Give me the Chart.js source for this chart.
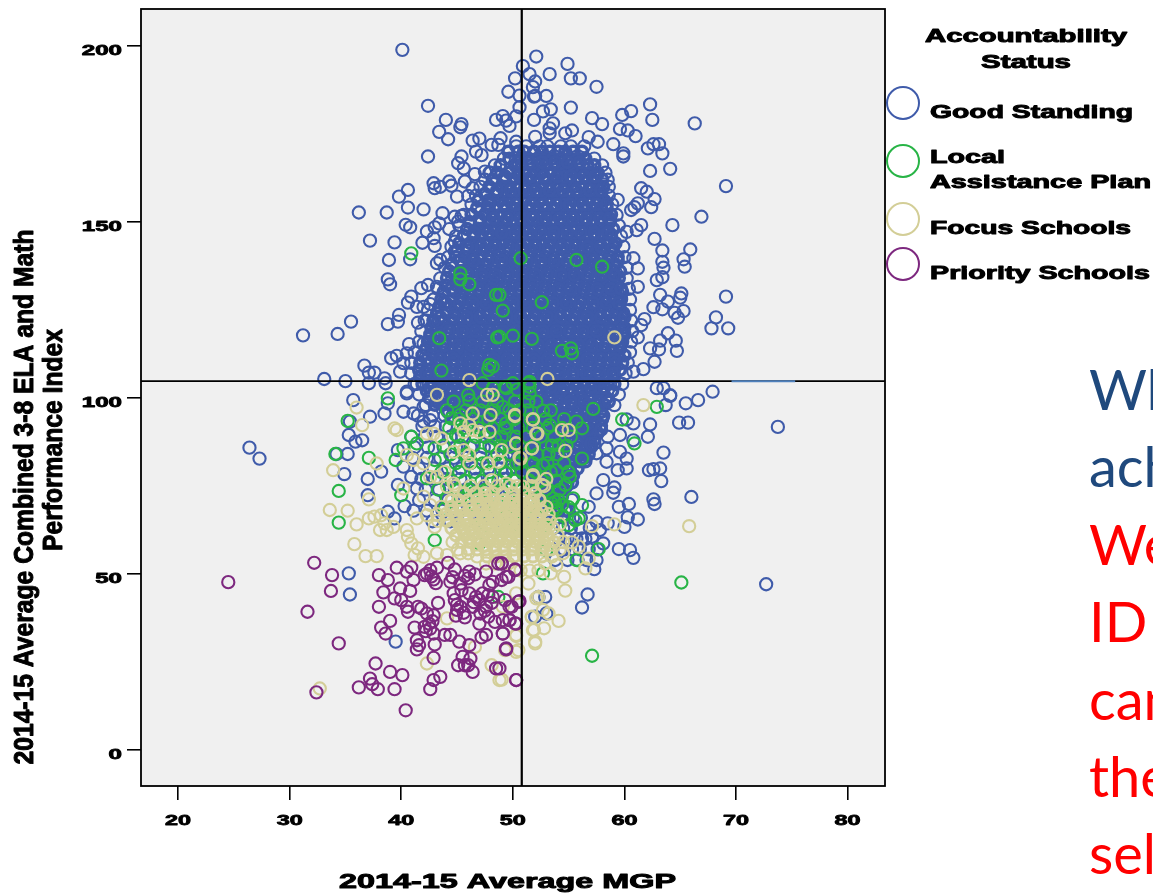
<!DOCTYPE html>
<html>
<head>
<meta charset="utf-8">
<title>MGP and Performance Index</title>
<script src="https://cdn.jsdelivr.net/npm/chart.js@4"></script>
<style>
html, body { margin: 0; padding: 0; background: #fff; overflow: hidden; }
canvas { display: block; }
</style>
</head>
<body>
<canvas id="scatter" width="1153" height="893"></canvas>
<script>
const xTickValues = [20, 30, 40, 50, 60, 70, 80];
const yTickValues = [0, 50, 100, 150, 200];
const xTitle = '2014-15 Average MGP';
const yTitleLines = ['2014-15 Average Combined 3-8 ELA and Math', 'Performance Index'];
const legendTitle = ['Accountability', 'Status'];
const sideLines = ['Wh', 'ach', 'We', 'ID', 'can', 'the', 'sel'];
const meanMgp = 50.8;
const meanIndex = 104.8;
const strayLineX = [69.6, 75.3];

// single circles that can be picked out by eye, [mgp, index]
const goodOutliers = [[40.1,198.9],[42.4,183],[44,179],[43.4,175.6],[44.2,173.5],[45.4,177.8],[45.3,176.9],[42.4,168.6],[46.4,173.1],[47,173.7],[46.7,170],[47.2,169],[48.1,171.9],[48.7,171.9],[48.9,173.8],[48.5,179],[49.1,180.1],[49.7,177.3],[49.4,178.8],[50.3,180],[50.6,182.6],[50.6,185.9],[49.6,187],[50.2,190.8],[50.9,194.3],[51.5,192],[52.1,197],[51.8,188.3],[52,189.9],[51.9,185.6],[51.9,179],[52,174.2],[50.3,172.8],[45.4,168.6],[45.1,166.7],[45.6,165.2],[46.6,163.6],[47.5,164.3],[47.9,164],[45.7,161.5],[44.3,161.5],[42.9,161],[43,159.6],[43.5,160],[44.5,160.3],[45,157.2],[46,157.4],[46.4,159.6],[40.6,159.1],[39.8,157.2],[40.6,154.1],[42,153.6],[38.7,152.7],[36.2,152.7],[43.7,152.5],[44.8,151.5],[45.4,151.7],[45.1,150.1],[40.4,149.2],[40.8,148.5],[43.4,149.6],[43,148.5],[44.3,148],[42.3,147.3],[37.2,144.7],[39.4,144.2],[41.9,144.1],[42.9,145.4],[43,143.2],[44.8,144.4],[44.8,141.6],[38.9,139.2],[40.8,139.4],[43.5,139.2],[43.2,138.3],[38.8,133.7],[39,132.3],[41.8,131.2],[42.4,132.1],[43.2,131.6],[40.9,128.8],[40.6,127.1],[41.4,125.9],[42,125.9],[42.6,126.7],[43.8,127.1],[39.8,123.6],[39.7,121.7],[38.8,121],[41.5,121.4],[42.3,122],[42.9,122],[43.3,121.7],[35.5,121.7],[34.3,118.2],[31.2,117.8],[40.7,115.3],[42,115.5],[42.6,117.2],[40.5,112.7],[39.6,112],[39.1,111.3],[40.2,109.9],[39.9,107.5],[36.7,109.2],[37.1,107.2],[37.6,107.2],[38.5,105.6],[38.6,104.2],[37.1,104.2],[35,104.8],[33.1,105.4],[40.5,101.8],[41.4,104],
[54.9,194.9],[53.3,192],[55.2,190.8],[56,190.8],[57.5,188.4],[52,185.8],[53,185.8],[53.4,182],[52.7,181.4],[55.2,182.5],[53.6,178],[57.1,179.5],[58,177.8],[59.8,180.4],[60.6,181.5],[62.3,183.4],[62.5,179],[66.3,178],[59.6,176.4],[60.3,176],[61,174.4],[55.3,176],[54.7,175.2],[53.3,176.6],[53.3,175.2],[56.8,174.1],[59,172.1],[57.6,172.8],[59.9,169.5],[59.9,168.6],[62.1,170.9],[62.6,172.1],[63.1,172.1],[63.4,169.5],[62.3,164.5],[64.1,165.1],[69.1,160.2],[61.5,159.6],[62,158.6],[62.7,156.5],[62.4,154.2],[61.2,155.3],[60.9,154.2],[60.6,153.4],[59.4,156.3],[66.9,151.5],[64.3,149.1],[61.5,149.1],[61.1,147.7],[60.2,147.2],[62.7,145.2],[63.4,141.9],[65.9,142.2],[65.3,139.4],[65.4,137.3],[63.4,138.7],[63.5,137],[60.8,139.7],[61.2,136.8],[62.9,133.5],[63.4,134.3],[61.2,131.6],[63.2,129.3],[65.1,129.7],[65,128.5],[69.1,128.8],[63.9,127.4],[62.6,125.8],[63.4,125.2],[64.5,124.2],[65.3,124.7],[64.8,122.8],[68.2,122.9],[67.8,119.8],[69.3,119.8],[61.8,122.4],[61.5,120.7],[63.9,118.4],[64.6,116.3],[63.2,116.3],[61.2,117.2],[64.7,113.4],[62.3,114.1],[63.1,113.8],[62.7,110.3],[61.7,108.2],[60.8,107.5],[62.9,102.8],[63.5,102.8],[64.1,100.8],[65.5,98.5],[66.6,99.4],[67.9,101.8],
[35.7,99.4],[35.4,93.3],[37.2,94.7],[38.5,95.6],[38.8,98.5],[40.5,101.3],[42,93.3],[35.3,89.5],[35.9,87.6],[36.5,88],[35.2,84.1],[34.2,84.1],[39.7,85.2],[40.2,80.5],[38.2,79.1],[34.9,78.4],[37,77],[40.9,77.6],[39.7,75.3],[37,72.4],[41.4,74.3],[40.3,69.3],[38.8,67.7],[39.4,65.8],[26.4,85.9],[27.3,82.8],[35.3,50.2],[35.4,44.2],[39.5,30.8],[42.6,93.7],[40.2,96.1],[42,97.5],[41.1,95.6],[43.5,98.5],
[64.1,100.6],[63.7,98],[64.9,93],[65.7,93],[73.75,91.8],[62.3,92.5],[62.1,89],[63.5,84.5],[62.2,79.5],[62.6,79.8],[63.2,80],[63.3,76.4],[66,71.9],[62.6,71.2],[62.7,69.9],[59.5,69.1],[60.4,69.9],[60.3,66.1],[61.2,65.5],[60,63.4],[59.5,57.1],[60.5,56.8],[60.8,54.6],[72.7,47.1],[56.7,44.2],[56.2,40.5],[57.3,51.4],[57.5,54],[59,73.1],[59.1,74.6],[58.1,76.7],[60.2,80],[59.4,79.5],[60.2,82.8],[59.6,84.7],[58.4,85.7],[57.3,87.1],[58.5,89],[59.6,89.5],[60.8,88],[60.8,92.8],[60.2,93.9],[58.4,81.9],[57.5,84.3],[56.8,69.1],[57.5,72.9],[58.5,64.4],[57.8,62.5],[57.1,60.6],[56.2,60.1],[57.5,64.9],[58.1,58.7],[52.9,43.5],[52.3,43.5],[52,37.9],[53,38.8]];

// the solid part of the cloud can't be separated by eye, so these are estimates
// per row of the picture: [index, mgp, mgp, ...]
const goodCoreRows = [
[170,49.6,50.5,51,51.9,52.6,53.3,54.1,54.7,55.4,56.2],
[168,49.7,50.7,51.4,52.2,52.9,53.6,54.3,55.1,55.8,56.5],
[166.1,48.9,50.2,50.8,51.6,52.3,53,53.8,54.5,55.2,55.9,56.7,57.3],
[164,48.6,49.7,50.5,51.1,51.9,52.6,53.4,54.1,54.7,55.5,56.2,56.9,57.6],
[162.1,48.2,49.3,50.1,50.8,51.5,52.2,52.9,53.7,54.4,55.1,55.8,56.6,57.2,58],
[160,47.9,49,49.7,50.4,51.2,51.8,52.6,53.3,54,54.8,55.5,56.2,56.9,57.6,58.1],
[158,47.5,48.6,49.3,50,50.7,51.5,52.2,52.9,53.6,54.3,55,55.8,56.5,57.2,57.9],
[156.1,46.9,47.8,48.9,49.6,50.4,51.1,51.8,52.5,53.3,54,54.7,55.4,56.1,56.8,57.6,58.2],
[154,46.8,47.8,48.5,49.3,50,50.7,51.4,52.2,52.9,53.6,54.4,55,55.8,56.5,57.2,57.9,58.4],
[152.1,46.3,47.5,48.2,48.9,49.6,50.3,51.1,51.8,52.5,53.2,54,54.7,55.4,56.1,56.9,57.5,58.3,58.8],
[150,46.1,47.1,47.9,48.6,49.3,50,50.8,51.4,52.2,52.9,53.6,54.3,55.1,55.8,56.5,57.2,57.9,58.7],
[148,45.9,46.9,47.5,48.3,49,49.7,50.4,51.2,51.9,52.6,53.3,54,54.8,55.5,56.2,56.9,57.7,58.4,59],
[146.1,45.6,46.5,47.2,48,48.7,49.4,50.1,50.8,51.6,52.3,53,53.7,54.4,55.1,55.9,56.6,57.3,58,58.8],
[144,45.2,46.2,47,47.7,48.4,49.1,49.8,50.5,51.3,52,52.7,53.4,54.2,54.9,55.6,56.3,57,57.8,58.5,59.2],
[142,45,46,46.7,47.4,48.1,48.8,49.6,50.3,51,51.7,52.4,53.1,53.9,54.6,55.3,56.1,56.8,57.5,58.2,58.9],
[140.1,44.9,45.7,46.4,47.1,47.9,48.6,49.3,50,50.7,51.5,52.2,52.9,53.6,54.3,55,55.8,56.5,57.2,57.9,58.7,59.4],
[138,44.5,45.5,46.2,46.9,47.6,48.3,49.1,49.8,50.5,51.2,51.9,52.7,53.4,54.1,54.8,55.5,56.3,57,57.7,58.4,59.1],
[136,44.3,45.3,46,46.8,47.5,48.2,48.9,49.6,50.3,51.1,51.8,52.5,53.2,53.9,54.7,55.4,56.1,56.8,57.6,58.3,59,59.6],
[134.1,44.1,45.1,45.9,46.6,47.3,48,48.7,49.5,50.2,50.9,51.6,52.3,53,53.8,54.5,55.2,55.9,56.6,57.4,58.1,58.8,59.5],
[132,44,45,45.7,46.4,47.1,47.8,48.5,49.3,50,50.7,51.4,52.2,52.9,53.6,54.3,55,55.8,56.5,57.2,57.9,58.6,59.3],
[130.1,43.8,44.8,45.5,46.2,47,47.7,48.4,49.1,49.8,50.6,51.3,52,52.7,53.4,54.1,54.9,55.6,56.3,57,57.7,58.5,59.2,59.8],
[128,43.6,44.6,45.4,46.1,46.8,47.5,48.2,48.9,49.7,50.4,51.1,51.8,52.5,53.3,54,54.7,55.4,56.2,56.9,57.6,58.3,59,59.7],
[126,43.4,44.4,45.1,45.8,46.5,47.3,48,48.7,49.4,50.1,50.9,51.6,52.3,53,53.7,54.5,55.2,55.9,56.6,57.3,58.1,58.8,59.5],
[124.1,43.2,44.1,44.8,45.6,46.3,47,47.7,48.4,49.2,49.9,50.6,51.3,52,52.8,53.5,54.2,54.9,55.7,56.4,57.1,57.8,58.5,59.3,59.9],
[122,42.9,43.8,44.6,45.3,46,46.7,47.5,48.2,48.9,49.6,50.3,51,51.8,52.5,53.2,53.9,54.7,55.4,56.1,56.8,57.5,58.3,59,59.7],
[120,42.7,43.6,44.3,45.1,45.8,46.5,47.2,47.9,48.7,49.4,50.1,50.8,51.5,52.3,53,53.7,54.4,55.1,55.9,56.6,57.3,58,58.7,59.5,60],
[118.1,42.6,43.4,44.2,44.9,45.6,46.3,47,47.8,48.5,49.2,49.9,50.6,51.4,52.1,52.8,53.5,54.2,55,55.7,56.4,57.1,57.9,58.6,59.3,60],
[116,42.4,43.2,43.9,44.7,45.4,46.1,46.8,47.5,48.3,49,49.7,50.4,51.2,51.9,52.6,53.3,54,54.8,55.5,56.2,56.9,57.6,58.4,59.1,59.8],
[114,42.2,43,43.8,44.5,45.2,45.9,46.6,47.4,48.1,48.8,49.5,50.3,51,51.7,52.4,53.1,53.9,54.6,55.3,56,56.7,57.5,58.2,58.9,59.6],
[112.1,41.9,42.8,43.5,44.2,44.9,45.7,46.4,47.1,47.8,48.5,49.3,50,50.7,51.4,52.1,52.9,53.6,54.3,55,55.8,56.5,57.2,57.9,58.6,59.4,60],
[110,41.7,42.6,43.3,44,44.7,45.5,46.2,46.9,47.6,48.4,49.1,49.8,50.5,51.2,52,52.7,53.4,54.1,54.9,55.6,56.3,57,57.7,58.5,59.2,59.8],
[108,41.6,42.4,43.2,43.9,44.6,45.3,46,46.8,47.5,48.2,48.9,49.6,50.4,51.1,51.8,52.5,53.3,54,54.7,55.4,56.1,56.9,57.6,58.3,59,59.6],
[106.1,41.7,42.5,43.2,43.9,44.6,45.4,46.1,46.8,47.5,48.3,49,49.7,50.4,51.1,51.9,52.6,53.3,54,54.7,55.5,56.2,56.9,57.6,58.4,59.1],
[104,41.9,42.7,43.4,44.1,44.8,45.5,46.3,47,47.7,48.4,49.2,49.9,50.6,51.3,52,52.8,53.5,54.2,54.9,55.7,56.4,57.1,57.8,58.5,59.1],
[102,42.3,43,43.7,44.4,45.1,45.9,46.6,47.3,48,48.8,49.5,50.2,50.9,51.6,52.4,53.1,53.8,54.5,55.3,56,56.7,57.4,58.1,58.9],
[100,42.5,43.2,44,44.7,45.4,46.1,46.8,47.6,48.3,49,49.7,50.5,51.2,51.9,52.6,53.3,54.1,54.8,55.5,56.2,56.9,57.7,58.4],
[98.1,43,43.7,44.5,45.2,45.9,46.6,47.4,48.1,48.8,49.5,50.2,51,51.7,52.4,53.1,53.9,54.6,55.3,56,56.7,57.5,58.2],
[96,44.2,44.9,45.6,46.4,47.1,47.8,48.5,49.3,50,50.7,51.4,52.1,52.9,53.6,54.3,55,55.8,56.5,57.2,57.9],
[94,45.8,46.5,47.2,47.9,48.6,49.4,50.1,50.8,51.5,52.3,53,53.7,54.4,55.1,55.9,56.6,57.3,58],
[92.1,47.2,48,48.7,49.4,50.1,50.9,51.6,52.3,53,53.7,54.5,55.2,55.9,56.6,57.4,57.9],
[90,47.7,48.5,49.2,49.9,50.6,51.3,52.1,52.8,53.5,54.2,55,55.7,56.4,57.1,57.6],
[88,48.7,49.4,50.2,50.9,51.6,52.3,53.1,53.8,54.5,55.2,55.9,56.7,57.3],
[86.1,49.2,50,50.7,51.4,52.1,52.8,53.6,54.3,55,55.7,56.5,57],
[84,49.7,50.5,51.2,51.9,52.6,53.4,54.1,54.8,55.5,56.2,56.8],
[82,50.3,51,51.7,52.4,53.1,53.9,54.6,55.3,56,56.5],
[80,50.7,51.5,52.2,52.9,53.6,54.4,55.1,55.8],
[78.1,51,51.8,52.5,53.2,53.9,54.6,55.4],
[76,51.3,52,52.8,53.5,54.2,54.9,55.3],
[74,51.8,52.5,53.2,53.9,54.6],
[72,52.3,53,53.7,54.4],
[70,52.7,53.5,54.2],
[68,53.3,54.1,54.8],
// second pass through the cloud where the rings overlap most
[167,50.4,51.5,52.6,53.8,54.9,56],
[163,49.3,50.6,51.7,52.8,54,55.2,56.4,57.4],
[159,48.6,49.8,51,52.1,53.3,54.5,55.7,56.9,57.9],
[155,47.9,49.2,50.3,51.6,52.7,53.9,55.1,56.3,57.5,58.4],
[151,47,48.3,49.5,50.7,51.8,53,54.2,55.4,56.6,57.8,58.7],
[147,46.5,47.8,49,50.2,51.4,52.5,53.7,54.9,56.1,57.3,58.5],
[143,45.9,47.2,48.4,49.6,50.8,52,53.2,54.4,55.6,56.7,57.9,59],
[139,45.3,46.5,47.8,49,50.2,51.3,52.5,53.7,54.9,56.1,57.3,58.5,59.4],
[135,44.8,46,47.2,48.4,49.6,50.8,52,53.1,54.3,55.5,56.7,57.9,59.1],
[131,44.5,45.7,46.9,48.1,49.3,50.5,51.7,52.9,54.1,55.2,56.4,57.6,58.8,59.7],
[127,44,45.2,46.4,47.6,48.8,50,51.2,52.4,53.6,54.8,56,57.2,58.4,59.5],
[123,43.5,44.7,45.9,47.1,48.3,49.5,50.7,51.9,53.1,54.3,55.5,56.7,57.9,59.1,60],
[119,43.1,44.3,45.5,46.7,47.9,49.1,50.3,51.5,52.7,53.9,55.1,56.3,57.5,58.7,59.9],
[115,42.7,43.9,45.1,46.3,47.5,48.7,49.9,51.1,52.3,53.5,54.7,55.9,57.1,58.3,59.5],
[111,42.3,43.5,44.7,45.9,47.1,48.3,49.5,50.7,51.9,53.1,54.3,55.5,56.7,57.9,59.1],
[107,42.2,43.4,44.6,45.8,47,48.2,49.4,50.6,51.8,53,54.2,55.4,56.6,57.8,59],
[103,42.6,43.8,45,46.2,47.4,48.6,49.8,51,52.2,53.4,54.6,55.8,57,58.2],
[99,43.2,44.4,45.6,46.8,48,49.2,50.4,51.6,52.8,54,55.2,56.4,57.6,58.6],
[95,46.1,47.4,48.6,49.8,51,52.2,53.4,54.6,55.8,57,58.1],
[91,48.3,49.6,50.8,52,53.2,54.4,55.6,56.8,57.9],
[87,49.8,51,52.2,53.4,54.6,55.8,57],
[83,50.6,51.8,53,54.2,55.4,56.4],
[79,51.5,52.7,53.9,55.1],
[75,52.4,53.6,54.8]];

// loose rings round the edge of the cloud and under the green and tan
const goodLooseRows = [
[171.5,50.3,51.2,52.4,53.1,54.3,55.2,56.4],
[168,49.2,57.3],[166.1,48.4,58],[164,48,58.3],[162,47.5,58.5],[160,47.1,58.6],[157.5,46.7,58.6],[155,46.3,58.9],[152,45.6,59.3],[149,45.2,59.5],[146,44.9,59.7],[143,44.5,59.9],[140,44.2,60],[137,43.9,60.2],[134,43.5,60.2],[131,43.3,60.4],[128,42.9,60.5],[125,42.4,60.5],[122,42.1,60.6],[119,41.8,60.7],[116,41.6,60.6],[113,41.2,60.5],[110,40.9,60.3],[107,40.9,60.1],[104,41.2,59.8],[101,41.6,59.5],[98,42.2,59.1],
[66,53.2,53.9,54.6,55.4,56.1],
[63,53.6,54.5,55.2,56.1,56.9],
[60,54.1,54.9,55.7,56.5],
[57,54.6,55.3,56,56.8,57.6],
[54,53.8,54.9,55.8,56.6],
[95,41.5,42.8,43.9,44.6],
[92,41.9,43,44,45.1,46],
[89,40.9,42.1,43.2,44.4,45.5,46.6,47.5],
[86,41.2,42.4,43.8,44.9,46.2,47.4,48.1],
[83,41,42.3,43.5,44.7,45.9,47.1,48.3,49.1],
[80,41.6,42.9,44.2,45.4,46.6,47.8,49,50],
[77,41.8,43,44.1,45.3,46.7,47.9,49.2,50.1],
[74,42.2,43.4,44.8,46,47.3,48.5,49.7,50.6],
[71,41.6,43,44.2,45.7,46.9,48.2,49.4,50.8,55.3],
[68,41.1,42.3,43.7,45,46.3,47.6,48.9,50.2,51.6,55],
[65,42.8,44.4,45.9,47.1,48.6,50.1,51.5,52.6]];

const localPoints = [[50.7,139.7],[55.7,139.2],[58,137.3],[52.6,127.2],[49.1,124.8],[50,117.7],[51.7,116.8],[54.4,113.4],[55.2,114.1],[55.3,112.7],[48.8,117.4],[48.8,129.3],[40.9,141.1],[45.3,135.4],[45.3,133.7],[46.1,132.3],[48.5,129.3],[43.4,117],[48.6,117.2],[43.6,107.8],[47.9,109.4],[48.2,108.9],[47.8,108],[47.3,104.2],[50,104.2],[51.4,104.2],[49.4,102.8],[48.2,102.8],[46,100.9],
[57.2,96.9],[52.7,96.4],[59.8,93.9],[62.9,97.5],[60.9,87.1],[56.2,82.8],[56.2,69.6],[57.7,57.1],[55.6,65.3],[65.1,47.6],[57.1,26.8],[55.7,54],[52.7,50.2],[56.2,91.4],[55.7,93.3],[53.3,92.3],[54.1,86.6],[53.2,84],[52.7,80.9],[53.9,79.5],[55.1,77.6],[54.7,75.3],[54.2,73.9],[53.8,70.5],[54.4,69.6],[53.9,68.2],[53.5,70.1],[54.1,71],[55,63.9],[55.9,65.8],[53,56.8],[51.5,103.2],[51.5,101.3],[49.3,103.2],[51.5,104.6],[50.4,102.4],
[38.8,99.9],[35.2,93.5],[34.1,84.1],[37.1,83],[39.5,82.4],[34.4,73.6],[34.4,64.6],[40.9,89],[41.4,87.1],[40.2,85.7],[44.5,94.2],[45.3,95.2],[46.1,99.4],[49.1,97.5],[44.9,89.5],[46.7,89],[48.4,88.5],[49.4,92.8],[42.3,77.2],[43,82.4],[43,85.7],[47.3,81.4],[49.7,86.2],[50.3,81.4],[49.4,78.6],[47.9,73.8],[46.4,72.9],[43.9,68.6],[45.6,68.6],[43,59.6],[40,72.4],[47,58.7],[50.8,64.4],[48.7,43.5]];

// green packed in behind the tan rings, estimated
const localCoreRows = [
[99,44.7,47.3,48.6,50.2,51.4,52.1],
[96.5,44.1,45.8,47.1,48.3,49.7,50.6,51.3,53.4],
[94,45.2,46.4,47.8,48.9,50.1,51.6,52.9,54.6],
[91.5,44.3,45.6,46.9,48.2,49.3,50.5,51.8,53.1,54.4],
[89,45.1,47.5,49,50.3,51.2,52.5,53.7,55.2],
[86.5,43.8,45.3,46.5,47.9,48.9,50.6,51.9,53.5,54.8],
[84,44.4,45.8,47.1,48.6,49.8,51.1,52.2,54],
[81.5,44.9,46.2,47.7,48.9,50.6,51.8,53.1,54.6],
[79,43.6,45.2,46.6,47.9,49.3,50.8,52,53.4,55],
[76.5,44.5,45.7,47.2,48.7,50.2,51.5,52.6,53.9],
[74,43.3,45,46.1,47.6,49,50.4,51.7,53],
[71.5,44.1,45.3,46.9,48.3,49.6,50.9,52.3,53.6,55.4],
[69,47.1,48.5,49.9,51.1,52.4,53.8,55],
[66.5,46.6,48.1,49.4,50.7,52.1,53.2,54.5],
[64,47.6,49.1,50.3,51.6,52.9,54.2]];

const focusPoints = [[59.1,117.2],[53.1,105.4],[46.1,105.1],[43.2,100.9],[47.7,100.9],[48.2,100.9],
[61.7,98],[65.8,63.6],[59.1,64.1],[57.1,63.6],[56.5,51.6],[54.7,45.3],[54.6,49.2],[53.4,50.2],[54.1,36.7],[52.8,34.6],[51.9,34.1],[52,30.8],[51.7,37.7],[53.2,38.8],[52.7,39.8],[52.3,43.5],[50.2,94.9],[51.8,93.9],[52.2,89.9],[54.4,90.9],[55,90.9],[51.7,85.7],[54.7,85],[50.3,87.1],[50.7,82.8],[51.8,78.1],[53,77],[52.6,75.3],[54.2,64.2],[55.3,59],[55.9,57.8],[56.8,54.4],[54.5,55.9],[53.9,52.5],[50.5,28.4],[49,20],[50.3,32.4],
[36,97.3],[36.5,92.3],[39.4,91.4],[39.6,90.9],[37.8,81.4],[33.9,79.5],[40.2,74.3],[37.1,71.2],[33.6,68.2],[35.2,68],[36,64.1],[37.1,65.8],[37.6,66.3],[38.2,66.7],[38.1,62.5],[38.7,62.5],[38.5,64.4],[39.3,63.4],[35.8,58.5],[36.8,55.1],[37.8,55.1],[40.5,62.5],[40.6,60.6],[40.9,58.7],[41.5,57.3],[41.2,55.4],[42,54.9],[43.2,55.9],[44.1,55.4],[45.3,55.9],[46,55.9],[42.3,89.9],[42.9,89.9],[43.6,88.5],[40.5,83.8],[41.1,82.4],[42,81.4],[42.6,77.6],[43.2,77.6],[43.9,79],[44.1,74.8],[44.7,75.7],[42,72],[42.6,69.6],[41.4,65.8],[42.3,66.7],[43,63.4],[44.7,84.7],[45.6,85.2],[46.1,83.8],[46.1,81.4],[47.8,81.4],[48.7,81.9],[49,85.2],[50.6,83.1],[51.7,85.7],[51.8,77.6],[45.3,92.8],[46.4,95.6],[48,95.2],[50.2,95.2],[51.8,93.9],[46.1,92.3],[45.6,90.4],[47,90.4],[47.9,90.4],[46.4,90.9],[50.3,87.1],[52.1,89.9],[32.7,17.5],[44.1,37.4],[42.3,24.6],[46.6,29.3],[48.1,24.1],[48.8,19.9],[49.3,28.4],[50.3,27.9],[50.3,32.7],[51.8,34.1],[52,30.3],[51.7,37.9],[51.4,47.3],[52.1,43.1],[49.1,40.7],[50.3,44.5],[50.9,74.8],[49.4,75.7],[48.1,76.7],
[44.8,75],[46.2,75],[47.4,75],[48.6,75],[49.8,75],[50.4,75],[51.7,75],[52.8,75],[43.6,69.1],[53,69.1],[43.2,67],[53.2,67],[43.3,65.1],[53.3,65.1],[53.6,63],[54,61],[44.6,59.1],[54.5,59.1],[45.1,57],[54.2,57],[46.8,55],[53.5,55],[47.6,53],[48.4,53],[49.6,53],[52.9,53],[50.7,51],[51.5,51],[52.3,51]];

// the tan blob, estimated: [index, mgp, mgp, ...]
const focusCoreRows = [
[73,45.6,46.7,47.5,48.2,49.1,50,51,52],
[71,44.5,45.1,46,46.8,47.6,48.3,49.2,50.1,50.9,51.8,52.4],
[69.1,44.5,45.3,46.2,47,47.8,48.6,49.5,50.3,51.2,52],
[67,44,44.8,45.7,46.5,47.3,48.1,48.9,49.8,50.6,51.4,52.3],
[65.1,44.1,45,45.8,46.6,47.4,48.3,49.1,49.9,50.7,51.6,52.4],
[63,44.5,45.4,46.2,47,47.8,48.7,49.5,50.3,51.2,52,52.8],
[61,44.9,45.7,46.5,47.4,48.2,49,49.8,50.7,51.5,52.3,53.1],
[59.1,45.4,46.2,47,47.9,48.7,49.5,50.4,51.2,52,52.8,53.7],
[57,46,46.8,47.6,48.4,49.2,50.1,50.9,51.7,52.6,53.4],
[55,47.7,48.5,49.3,50.1,51,51.8,52.6],
[70,47.1,48,48.9,49.7,50.6,51.5],
[68,44.5,45.4,46.3,47.2,48.1,49,49.9,50.8,51.7,52.6],
[66,44.9,45.8,46.7,47.6,48.5,49.4,50.3,51.2,52.1],
[64,45.2,46.1,47,47.9,48.8,49.7,50.6,51.5,52.4,53.1],
[62,45.6,46.5,47.4,48.3,49.2,50.1,51,51.9,52.8],
[60,46,46.9,47.8,48.7,49.6,50.5,51.4,52.3,53.2],
[58,47.4,48.3,49.2,50.1,51,51.9,52.8]];

const priorityPoints = [[24.5,47.7],[32.2,53.2],[33.8,49.7],[33.7,45.2],[31.6,39.3],[34.4,30.3],[37.7,24.6],[39,22.2],[40.1,21.3],[37.2,20.3],[37.4,18.7],[37.9,17.3],[36.2,17.8],[39.4,17.3],[32.4,16.4],[40.4,11.3],[42.6,17.3],[42.9,19.9],[43.5,20.8],[42.9,26.2],[45.1,24.1],[45.7,24.1],[45.5,26.5],[46.2,26],[46,24.1],[46.4,22.2],[48.5,23.2],[50.3,19.9],[49.4,28.9],[46.1,29.8],[45.2,30.8],[43,30],[41.4,31.2],[41.6,29.8],[41.4,28.6],[38.2,34.8],[38.6,33.1],[39,36.7],[38,40.7],[38.4,44.8],[38,49.7],[38.8,48.3],[39.6,51.8],[40.9,51.9],[39.4,43.1],[40,42.6],[39.9,45.9],[40.8,45.2],[40.5,50.7],[41.1,48.3],[42.1,49.7],[42.6,51.1],[42.9,48.5],[43.2,51.8],[44.2,53.2],[44.8,51.3],[44.4,47.8],[46.1,50.7],[46,48.8],[47.6,50.7],[48.7,53],[49,53],[50.2,51.3],[49.6,49.2],[48.2,47.8],[47.9,46.9],[45.3,47.3],[40.5,40.7],[40.6,39.3],[41.5,40.7],[41.8,40.2],[42.3,38.8],[42.9,38.3],[43.3,41.8],[44.8,42.6],[45,39.8],[45.7,37.7],[41.2,34.8],[42.1,35],[42.6,34.5],[42.9,33.1],[43.9,32.7],[44.4,32.7],[47.2,32],[47.6,32.7],[49.1,33.1],[48.4,36.4],[49.7,36.9],[50.3,35.9],[50.5,42.1],[49.9,40.7],[47,42.6],[47.6,40.7],[47.8,37.9],[46.7,43.5],[46.1,44.5],[48.2,43.5],[47.3,44.5],[44.7,44.5],[45.3,40.7],[45.4,45.4],[46.4,40.7],[47.1,38.8],[50.6,42.3],[49.7,40.7],[49.3,42.6],[49.7,36.9],[49.1,36.9],[50.2,36],[49.1,33.1],[49.4,28.6],[50.3,19.9],[48.8,23.2],[49,53],[50.2,51.1],[49.4,49.2],[49,48.3],[42.5,35.9],[42.2,33.8],[42.8,36.6],[45,41.3],[45.6,39],[44.9,38.2],[47.5,39.6],[47,35.9],[46.5,42],[48.1,41.8],[47.8,44],[42.7,49.3],[42.3,50.1],[43.1,47.4],[45.7,49.5],[46.6,49.9],[44.6,49.1]];

const seriesNames = [['Good Standing'], ['Local', 'Assistance Plan'], ['Focus Schools'], ['Priority Schools']];
const seriesColors = ['#3F5BAA', '#28B446', '#D3CE97', '#7D287F'];

const toPoints = pairs => pairs.map(([x, y]) => ({x, y}));
const rowsToPoints = rows => rows.flatMap(([y, ...xs]) => xs.map(x => ({x, y})));

function ringSet(data, color, order, width = 2.1, radius = 6.1) {
    return {
        data,
        order,
        showLine: false,
        pointStyle: 'circle',
        pointRadius: radius,
        pointBorderWidth: width,
        pointBackgroundColor: 'rgba(0,0,0,0)',
        pointBorderColor: color
    };
}

function lineSet(x, y, color, width, order) {
    return {
        data: x.flatMap(a => y.map(b => ({x: a, y: b}))),
        order,
        showLine: true,
        pointRadius: 0,
        borderColor: color,
        borderWidth: width
    };
}

// stretched heavy text like the original export, squeezed to a target width
function drawFitted(ctx, text, x, y, width, font, align, heavy = 0.8) {
    ctx.save();
    ctx.font = font;
    ctx.fillStyle = '#000';
    ctx.strokeStyle = '#000';
    ctx.lineWidth = heavy;
    ctx.lineJoin = 'round';
    ctx.textBaseline = 'alphabetic';
    ctx.textAlign = 'left';
    const sx = width / ctx.measureText(text).width;
    const left = align === 'center' ? x - width / 2 : align === 'right' ? x - width : x;
    ctx.translate(left, y);
    ctx.scale(sx, 1);
    ctx.fillText(text, 0, 0);
    ctx.strokeText(text, 0, 0);
    ctx.restore();
}

const framePlugin = {
    id: 'frame',
    beforeDraw(chart) {
        const {ctx, chartArea: a} = chart;
        ctx.save();
        ctx.fillStyle = '#F0F0F0';
        ctx.fillRect(a.left, a.top, a.right - a.left, a.bottom - a.top);
        ctx.restore();
    },
    afterDraw(chart) {
        const {ctx, chartArea: a, scales} = chart;
        ctx.save();
        ctx.strokeStyle = '#000';
        ctx.lineWidth = 1.8;
        ctx.strokeRect(a.left, a.top, a.right - a.left, a.bottom - a.top);
        ctx.restore();

        const tickFont = 'bold 14px "Liberation Sans"';
        xTickValues.forEach(v => {
            drawFitted(ctx, String(v), scales.x.getPixelForValue(v), 825, 26, tickFont, 'center');
        });
        yTickValues.forEach(v => {
            const w = String(v).length * 13.4;
            drawFitted(ctx, String(v), 122, scales.y.getPixelForValue(v) + 9, w, tickFont, 'right');
        });

        drawFitted(ctx, xTitle, 507.5, 888, 337, 'bold 21px "Liberation Sans"', 'center', 1);

        ctx.save();
        ctx.translate(33, 497);
        ctx.rotate(-Math.PI / 2);
        drawFitted(ctx, yTitleLines[0], 0, 0, 535, 'bold 27px "Liberation Sans"', 'center', 1);
        drawFitted(ctx, yTitleLines[1], 57, 29, 222, 'bold 27px "Liberation Sans"', 'center', 1);
        ctx.restore();

        const legendFont = 'bold 19px "Liberation Sans"';
        drawFitted(ctx, legendTitle[0], 1026, 42, 202, legendFont, 'center', 1);
        drawFitted(ctx, legendTitle[1], 1026, 68, 90, legendFont, 'center', 1);

        const circleY = [103, 161, 219, 264];
        const nameRows = [[118], [163, 188], [234], [279]];
        const nameWidths = [[203], [75, 221], [201], [220]];
        seriesNames.forEach((lines, i) => {
            ctx.save();
            ctx.beginPath();
            ctx.arc(903, circleY[i], 16, 0, Math.PI * 2);
            ctx.strokeStyle = seriesColors[i];
            ctx.lineWidth = 2;
            ctx.stroke();
            ctx.restore();
            lines.forEach((line, j) => {
                drawFitted(ctx, line, 930, nameRows[i][j], nameWidths[i][j], legendFont, 'left', 1);
            });
        });

        ctx.save();
        ctx.font = '56px Lato';
        ctx.textBaseline = 'alphabetic';
        sideLines.forEach((line, i) => {
            ctx.fillStyle = i < 2 ? '#1F497D' : '#FF0000';
            ctx.fillText(line, 1089, 410 + i * 77.4);
        });
        ctx.restore();
    }
};

new Chart(document.getElementById('scatter'), {
    type: 'scatter',
    plugins: [framePlugin],
    data: {
        datasets: [
            ringSet(rowsToPoints(goodCoreRows), seriesColors[0], 8, 3.6, 5.4),
            ringSet([...toPoints(goodOutliers), ...rowsToPoints(goodLooseRows)], seriesColors[0], 7),
            ringSet([...toPoints(localPoints), ...rowsToPoints(localCoreRows)], seriesColors[1], 6),
            ringSet(rowsToPoints(focusCoreRows), seriesColors[2], 5, 3, 5.6),
            ringSet(toPoints(focusPoints), seriesColors[2], 4),
            ringSet(toPoints(priorityPoints), seriesColors[3], 3),
            lineSet([meanMgp], [-10.2, 210.5], '#000', 2.2, 2),
            lineSet([16.68, 83.35], [meanIndex], '#000', 1.8, 1),
            lineSet(strayLineX, [meanIndex], '#4F81BD', 2, 0)
        ]
    },
    options: {
        responsive: false,
        animation: false,
        devicePixelRatio: 1,
        layout: {padding: {left: 0, top: 8, right: 268, bottom: 0}},
        plugins: {legend: {display: false}, tooltip: {enabled: false}},
        scales: {
            x: {
                type: 'linear',
                min: 16.68,
                max: 83.35,
                afterBuildTicks: axis => { axis.ticks = xTickValues.map(value => ({value})); },
                afterFit: axis => { axis.height = 107; },
                ticks: {display: false},
                border: {display: false},
                grid: {drawOnChartArea: false, drawTicks: true, tickLength: 14, color: '#000', lineWidth: 1.6}
            },
            y: {
                type: 'linear',
                min: -10.2,
                max: 210.5,
                afterBuildTicks: axis => { axis.ticks = yTickValues.map(value => ({value})); },
                afterFit: axis => { axis.width = 141; },
                ticks: {display: false},
                border: {display: false},
                grid: {drawOnChartArea: false, drawTicks: true, tickLength: 14, color: '#000', lineWidth: 1.6}
            }
        }
    }
});
</script>
</body>
</html>
